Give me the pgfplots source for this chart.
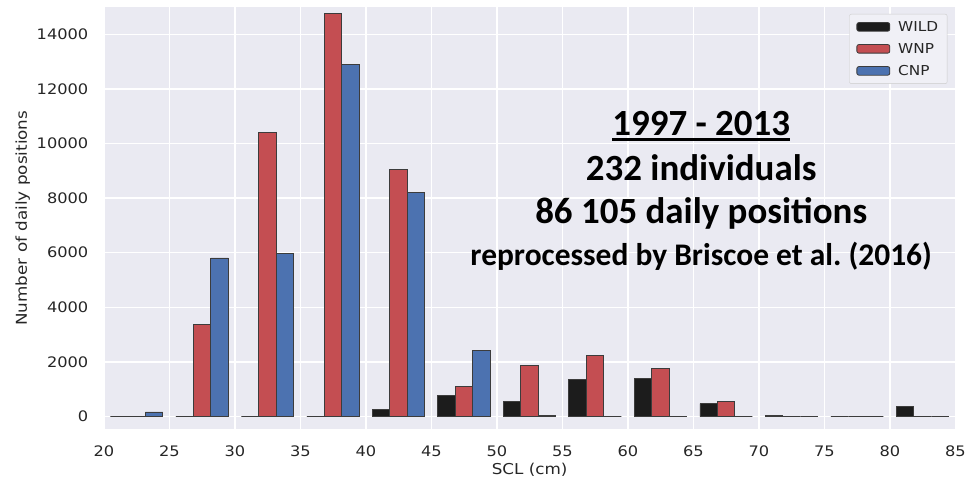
\documentclass[border=0pt]{standalone}
\usepackage{fontspec}
\setmainfont{DejaVu Sans}[FakeStretch=1.12]
\newfontfamily\calib{Carlito}
\usepackage{pgfplots}
\usepackage{pgfplotstable}
\pgfplotsset{compat=1.18}

\definecolor{axbg}{HTML}{EAEAF2}
\definecolor{txt}{HTML}{262626}
\definecolor{cwild}{HTML}{1C1C1C}
\definecolor{cwnp}{HTML}{C44E52}
\definecolor{ccnp}{HTML}{4C72B0}
\definecolor{edge}{HTML}{3C3C3C}

% bin centres, counts per group
\pgfplotstableread{
x     wild  wnp    cnp
22.5  0     0      170
27.5  0     3370   5810
32.5  0     10400  5970
37.5  0     14770  12900
42.5  270   9060   8220
47.5  780   1110   2420
52.5  550   1880   50
57.5  1360  2250   0
62.5  1410  1750   0
67.5  475   570    0
72.5  50    0      0
77.5  0     0      0
82.5  380   0      0
}\counts

\begin{document}
\begin{tikzpicture}
\begin{axis}[
  scale only axis, width=853pt, height=423pt,
  xmin=20, xmax=85, ymin=-465, ymax=15000,
  xtick={20,25,...,85}, ytick={0,2000,...,14000},
  scaled y ticks=false,
  axis background/.style={fill=axbg},
  axis line style={draw=none},
  major tick length=0pt,
  grid=major, grid style={white, line width=1.5pt},
  tick label style={font=\fontsize{14.5}{17}\selectfont, text=txt},
  /pgf/number format/assume math mode=true,
  /pgf/number format/1000 sep={},
  yticklabel style={xshift=-12pt},
  xticklabel style={yshift=-13pt},
  xlabel={SCL (cm)}, ylabel={Number of daily positions},
  label style={font=\fontsize{15}{17}\selectfont, text=txt},
  xlabel style={yshift=0pt},
  ylabel style={yshift=0pt},
  legend style={at={(1,1)}, anchor=north east, xshift=-8pt, yshift=-7pt,
    fill=axbg!70!white, draw=black!20, rounded corners=2pt,
    font=\fontsize{13.7}{15}\selectfont, text=txt,
    row sep=6.5pt, inner xsep=7pt, inner ysep=5pt},
  legend cell align=left,
  legend image code/.code={\fill[#1] (0pt,-4.3pt) rectangle (33pt,4.3pt);},
  /tikz/every odd column/.append style={column sep=6pt},
  clip=false,
]
\addplot[ybar, bar width=1.3333, bar shift=-1.3333, fill=cwild, draw=edge, line width=0.8pt] table[x=x, y=wild] {\counts};
\addplot[ybar, bar width=1.3333, bar shift=0, fill=cwnp, draw=edge, line width=0.8pt] table[x=x, y=wnp] {\counts};
\addplot[ybar, bar width=1.3333, bar shift=1.3333, fill=ccnp, draw=edge, line width=0.8pt] table[x=x, y=cnp] {\counts};
\legend{WILD, WNP, CNP}

\begin{scope}[every node/.style={anchor=base, inner sep=0pt}]
\node[font=\calib\bfseries\fontsize{37}{40}\selectfont] (l1) at (axis cs:65.6,10300) {1997 - 2013};
\node[font=\calib\bfseries\fontsize{37}{40}\selectfont] at (axis cs:65.6,8650) {232 individuals};
\node[font=\calib\bfseries\fontsize{37}{40}\selectfont] at (axis cs:65.6,7080) {86 105 daily positions};
\node[font=\calib\bfseries\fontsize{31.5}{34}\selectfont] at (axis cs:65.6,5530) {reprocessed by Briscoe et al.\ (2016)};
\end{scope}
\draw[line width=2.5pt] ([yshift=-4.3pt]l1.base west) -- ([yshift=-4.3pt]l1.base east);
\end{axis}
\path ([xshift=-104pt,yshift=-47pt]current axis.south west) rectangle ([xshift=12pt,yshift=7pt]current axis.north east);
\end{tikzpicture}
\end{document}
